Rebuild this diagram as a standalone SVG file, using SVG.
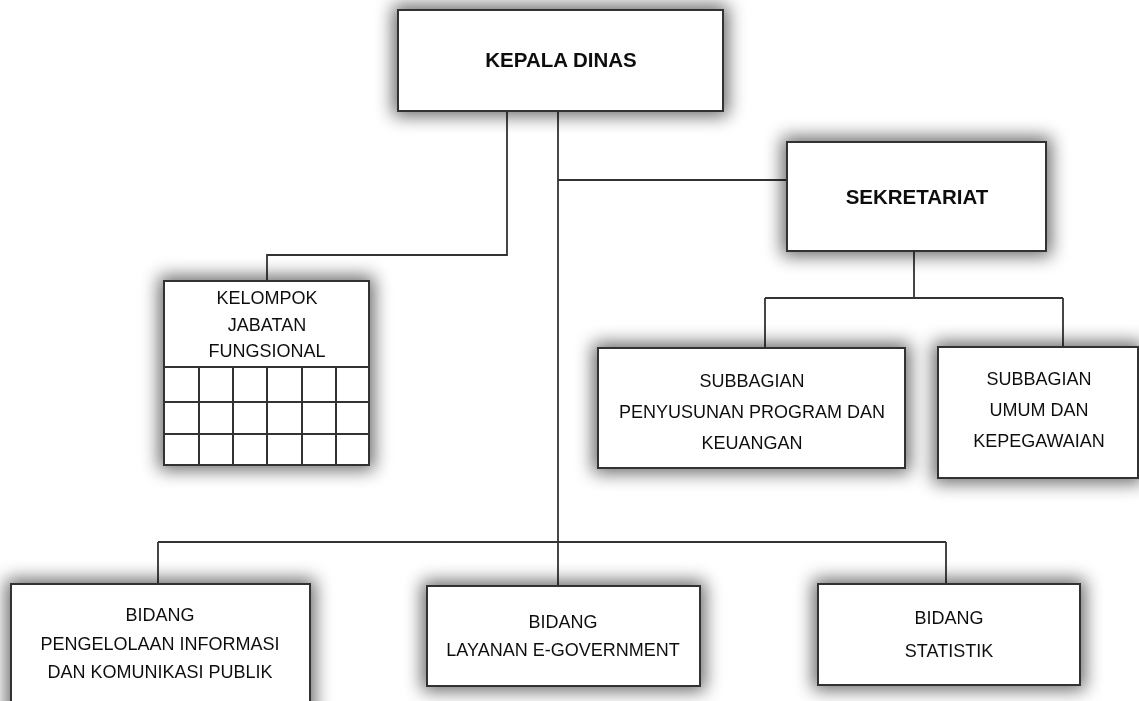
<svg xmlns="http://www.w3.org/2000/svg" width="1139" height="701" viewBox="0 0 1139 701">
<defs>
<filter id="sh" x="-30%" y="-50%" width="160%" height="200%">
<feMorphology in="SourceAlpha" operator="dilate" radius="4" result="d"/>
<feGaussianBlur in="d" stdDeviation="9"/>
<feComponentTransfer><feFuncA type="linear" slope="0.6"/></feComponentTransfer>
<feMerge><feMergeNode/><feMergeNode in="SourceGraphic"/></feMerge>
</filter>
<style>
.box{fill:#fff;stroke:#333;stroke-width:2}
.grid{fill:none;stroke:#333;stroke-width:2}
.ln{fill:none;stroke:#333;stroke-width:1.8}
.t{font-family:"Liberation Sans",Arial,sans-serif;font-size:18px;fill:#111;text-anchor:middle}
.b{font-family:"Liberation Sans",Arial,sans-serif;font-size:20.5px;font-weight:bold;fill:#111;text-anchor:middle}
</style>
</defs>
<rect width="1139" height="701" fill="#fff"/>
<g id="connectors">
<path class="ln" d="M507,111 V255 H267 V281"/>
<path class="ln" d="M558,111 V542"/>
<path class="ln" d="M558,180 H787"/>
<path class="ln" d="M158,542 H946 M158,542 V584 M558,542 V586 M946,542 V584"/>
<path class="ln" d="M914,251 V298 M765,298 H1063 M765,298 V348 M1063,298 V347"/>
</g>
<g id="kepala-dinas" filter="url(#sh)">
<rect class="box" x="398" y="10" width="325" height="101"/>
<text class="b" x="561" y="67">KEPALA DINAS</text>
</g>
<g id="sekretariat" filter="url(#sh)">
<rect class="box" x="787" y="142" width="259" height="109"/>
<text class="b" x="917" y="204">SEKRETARIAT</text>
</g>
<g id="kelompok-jabatan-fungsional" filter="url(#sh)">
<rect class="box" x="164" y="281" width="205" height="184"/>
<path class="grid" d="M164,367 H369 M164,402 H369 M164,434 H369 M199,367 V465 M233,367 V465 M267,367 V465 M302,367 V465 M336,367 V465"/>
<text class="t" x="267" y="304">KELOMPOK</text>
<text class="t" x="267" y="331">JABATAN</text>
<text class="t" x="267" y="357">FUNGSIONAL</text>
</g>
<g id="subbagian-penyusunan" filter="url(#sh)">
<rect class="box" x="598" y="348" width="307" height="120"/>
<text class="t" x="752" y="387">SUBBAGIAN</text>
<text class="t" x="752" y="418">PENYUSUNAN PROGRAM DAN</text>
<text class="t" x="752" y="449">KEUANGAN</text>
</g>
<g id="subbagian-umum" filter="url(#sh)">
<rect class="box" x="938" y="347" width="200" height="131"/>
<text class="t" x="1039" y="385">SUBBAGIAN</text>
<text class="t" x="1039" y="416">UMUM DAN</text>
<text class="t" x="1039" y="447">KEPEGAWAIAN</text>
</g>
<g id="bidang-pikp" filter="url(#sh)">
<rect class="box" x="11" y="584" width="299" height="140"/>
<text class="t" x="160" y="621">BIDANG</text>
<text class="t" x="160" y="650">PENGELOLAAN INFORMASI</text>
<text class="t" x="160" y="678">DAN KOMUNIKASI PUBLIK</text>
</g>
<g id="bidang-layanan" filter="url(#sh)">
<rect class="box" x="427" y="586" width="273" height="100"/>
<text class="t" x="563" y="628">BIDANG</text>
<text class="t" x="563" y="656">LAYANAN E-GOVERNMENT</text>
</g>
<g id="bidang-statistik" filter="url(#sh)">
<rect class="box" x="818" y="584" width="262" height="101"/>
<text class="t" x="949" y="624">BIDANG</text>
<text class="t" x="949" y="657">STATISTIK</text>
</g>
</svg>
